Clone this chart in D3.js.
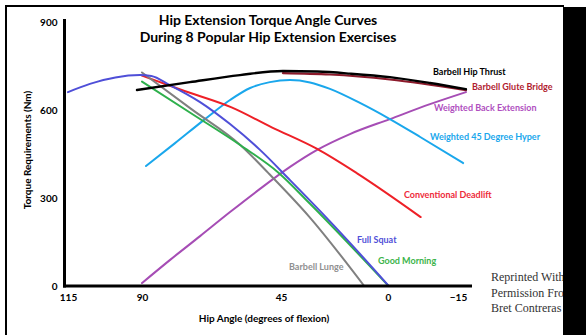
<!DOCTYPE html>
<html>
<head>
<meta charset="utf-8">
<script src="https://cdn.jsdelivr.net/npm/d3@7/dist/d3.min.js"></script>
<style>
  html, body { margin: 0; padding: 0; background: #fff; }
  svg { display: block; }
  text { font-family: Lato, "Open Sans", sans-serif; }
</style>
</head>
<body>
<svg id="chart" width="586" height="335"></svg>
<script>
// ---- Data (hip angle in degrees of flexion, torque in Nm) ----
const titleLines = ["Hip Extension Torque Angle Curves", "During 8 Popular Hip Extension Exercises"];
const xTickValues = [115, 90, 45, 0, -15];
const yTickValues = [0, 300, 600, 900];
const xTitle = "Hip Angle (degrees of flexion)";
const yTitle = "Torque Requirements (Nm)";
const creditLines = ["Reprinted With", "Permission From", "Bret Contreras"];

const seriesNames = ["Weighted Back Extension", "Weighted 45 Degree Hyper", "Conventional Deadlift",
  "Barbell Lunge", "Good Morning", "Full Squat", "Barbell Glute Bridge", "Barbell Hip Thrust"];

const backExtension = [[90,10],[80.9,89],[71.2,170],[61.5,252],[51.8,331],[41.2,406],[29.8,464],[16,518],[-0.4,569],[-9,620],[-16.7,661]];
const hyper45 = [[88.7,409],[79.3,487],[69.6,569],[61.5,634],[55,675],[48.6,695],[41.2,702],[32.8,694],[24.4,672],[11.8,624],[-0.4,569],[-6.9,508],[-16.1,419]];
const deadlift = [[90,717],[76,664],[61,609],[48,541],[30,468],[13,384],[-7,235]];
const lunge = [[90,728],[74,603],[58,479],[49,384],[33,235],[10,0]];
const goodMorning = [[90,697],[74,588],[58,479],[46,388],[33,282],[0,2]];
const fullSquat = [[115,661],[107.6,689],[99,711],[90.7,719],[87,716],[81,685],[71.2,627],[61.5,552],[51.8,464],[41.2,361],[28.6,256],[16,147],[0,3]];
const gluteBridge = [[44.2,726],[24.4,721],[-0.4,704],[-16.7,668]];
const hipThrust = [[91.7,668],[74.5,695],[58.3,719],[44.2,733],[29.7,731],[16,724],[-0.4,712],[-9,692],[-16.7,671]];

const seriesData = [backExtension, hyper45, deadlift, lunge, goodMorning, fullSquat, gluteBridge, hipThrust];

// ---- Styling / layout ----
const lineColors = ["#a64db5", "#1aa7ec", "#ee2027", "#808080", "#2eb04c", "#4f4fd8", "#8c1a2b", "#000000"];
const labelColors = ["#b050c0", "#1aa7ec", "#ee2a3a", "#909090", "#3cb44a", "#5050d8", "#b01c30", "#000000"];
const lineWidths = [2, 2, 2, 2, 2, 2, 2.2, 2.4];
// label anchor (left x, baseline y) in pixels
const labelPos = [[434,111],[430,140],[404,198],[289,270],[378,264],[357,243],[472,90],[433,75]];

const svg = d3.select("#chart");

const x = d3.scaleLinear().domain([115, 90, 45, 0, -15]).range([68, 142, 281, 388, 458]);
const y = d3.scaleLinear().domain([0, 900]).range([286, 22]);

svg.append("rect").attr("x", 0).attr("y", 0).attr("width", 586).attr("height", 335).attr("fill", "#fff");

// title
svg.append("g").selectAll("text").data(titleLines).join("text")
  .attr("x", 268).attr("y", (d, i) => 25 + i * 17)
  .attr("text-anchor", "middle")
  .attr("font-size", 14).attr("font-weight", "bold").attr("fill", "#000")
  .text(d => d);

// axes (labels through d3 axes)
const yAxis = svg.append("g").attr("transform", "translate(64.5,0)")
  .call(d3.axisLeft(y).tickValues(yTickValues).tickSize(0).tickPadding(7).tickFormat(d3.format("d")));
yAxis.select(".domain").remove();
yAxis.selectAll("text").attr("font-size", 10).attr("font-weight", "bold").attr("fill", "#000")
  .style("font-family", "Lato, sans-serif");

const xAxis = svg.append("g").attr("transform", "translate(0,286)")
  .call(d3.axisBottom(x).tickValues(xTickValues).tickSize(0).tickPadding(8).tickFormat(d3.format("d")));
xAxis.select(".domain").remove();
xAxis.selectAll("text").attr("font-size", 10).attr("font-weight", "bold").attr("fill", "#000")
  .style("font-family", "Lato, sans-serif");

// series lines
const line = d3.line().x(d => x(d[0])).y(d => y(d[1])).curve(d3.curveMonotoneX);
svg.append("g").selectAll("path").data(seriesData).join("path")
  .attr("d", line)
  .attr("fill", "none")
  .attr("stroke", (d, i) => lineColors[i])
  .attr("stroke-width", (d, i) => lineWidths[i])
  .attr("stroke-linecap", "round")
  .attr("stroke-linejoin", "round");

// axis lines
svg.append("line").attr("x1", 64.5).attr("x2", 64.5).attr("y1", 19).attr("y2", 287.5)
  .attr("stroke", "#000").attr("stroke-width", 3);
svg.append("line").attr("x1", 63).attr("x2", 472).attr("y1", 286).attr("y2", 286)
  .attr("stroke", "#000").attr("stroke-width", 3);

// series labels
svg.append("g").selectAll("text").data(seriesNames).join("text")
  .attr("x", (d, i) => labelPos[i][0]).attr("y", (d, i) => labelPos[i][1])
  .attr("font-size", 9).attr("font-weight", "bold")
  .attr("fill", (d, i) => labelColors[i])
  .text(d => d);

// axis titles
svg.append("text").attr("x", 264).attr("y", 322).attr("text-anchor", "middle")
  .attr("font-size", 10).attr("font-weight", "bold").text(xTitle);
svg.append("text").attr("transform", "translate(31,150) rotate(-90)").attr("text-anchor", "middle")
  .attr("font-size", 10).attr("font-weight", "bold").text(yTitle);

// credit
svg.append("g").selectAll("text").data(creditLines).join("text")
  .attr("x", 491).attr("y", (d, i) => 281 + i * 15.5)
  .attr("font-size", 12).style("font-family", "'Liberation Serif', 'DejaVu Serif', serif")
  .attr("fill", "#333")
  .text(d => d);

// outer frame and black side block
svg.append("line").attr("x1", 6).attr("x2", 564).attr("y1", 6).attr("y2", 6).attr("stroke", "#000").attr("stroke-width", 2);
svg.append("line").attr("x1", 6).attr("x2", 6).attr("y1", 5).attr("y2", 335).attr("stroke", "#000").attr("stroke-width", 2);
svg.append("rect").attr("x", 563).attr("y", 7).attr("width", 23).attr("height", 328).attr("fill", "#000");
</script>
</body>
</html>
